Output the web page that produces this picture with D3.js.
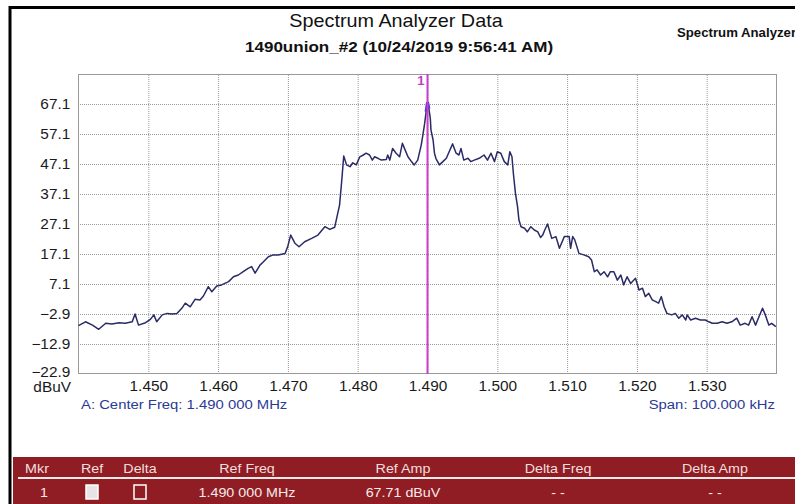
<!DOCTYPE html>
<html>
<head>
<meta charset="utf-8">
<script src="https://cdnjs.cloudflare.com/ajax/libs/d3/7.8.5/d3.min.js"></script>
<style>
    html, body { margin: 0; padding: 0; background: #fff; overflow: hidden; }
    svg { display: block; font-family: "Liberation Sans", Arial, sans-serif; }
</style>
</head>
<body>
<svg id="chart" width="795" height="504"></svg>
<script>
// trace: frequency (MHz) and amplitude (dBuV)
var freqMHz = [
    1.4400, 1.4410, 1.4420, 1.4429, 1.4439, 1.4448, 1.4458, 1.4467, 1.4477, 1.4481,
    1.4486, 1.4496, 1.4503, 1.4508, 1.4512, 1.4520, 1.4527, 1.4534, 1.4541, 1.4548,
    1.4553, 1.4560, 1.4567, 1.4574, 1.4579, 1.4586, 1.4591, 1.4598, 1.4605, 1.4615,
    1.4622, 1.4629, 1.4636, 1.4643, 1.4648, 1.4653, 1.4660, 1.4665, 1.4672, 1.4679,
    1.4686, 1.4696, 1.4700, 1.4704, 1.4710, 1.4716, 1.4724, 1.4734, 1.4743, 1.4753,
    1.4760, 1.4767, 1.4774, 1.4777, 1.4780, 1.4784, 1.4789, 1.4793, 1.4798, 1.4803,
    1.4808, 1.4812, 1.4817, 1.4821, 1.4824, 1.4829, 1.4834, 1.4841, 1.4843, 1.4846,
    1.4850, 1.4855, 1.4860, 1.4864, 1.4867, 1.4872, 1.4877, 1.4881, 1.4886, 1.4891,
    1.4893, 1.4896, 1.4898, 1.4900, 1.4902, 1.4904, 1.4905, 1.4908, 1.4910, 1.4912,
    1.4917, 1.4922, 1.4927, 1.4931, 1.4936, 1.4941, 1.4945, 1.4948, 1.4952, 1.4958,
    1.4962, 1.4967, 1.4974, 1.4981, 1.4986, 1.4991, 1.4996, 1.5000, 1.5005, 1.5010,
    1.5015, 1.5018, 1.5021, 1.5023, 1.5026, 1.5029, 1.5031, 1.5034, 1.5039, 1.5043,
    1.5048, 1.5053, 1.5058, 1.5062, 1.5065, 1.5068, 1.5072, 1.5078, 1.5084, 1.5089,
    1.5096, 1.5103, 1.5105, 1.5108, 1.5111, 1.5117, 1.5124, 1.5131, 1.5135, 1.5139,
    1.5143, 1.5148, 1.5153, 1.5158, 1.5162, 1.5167, 1.5172, 1.5177, 1.5181, 1.5186,
    1.5191, 1.5198, 1.5203, 1.5208, 1.5212, 1.5217, 1.5222, 1.5227, 1.5231, 1.5235,
    1.5239, 1.5243, 1.5250, 1.5255, 1.5260, 1.5265, 1.5270, 1.5272, 1.5277, 1.5284,
    1.5291, 1.5298, 1.5303, 1.5308, 1.5315, 1.5322, 1.5329, 1.5336, 1.5343, 1.5348,
    1.5355, 1.5360, 1.5365, 1.5370, 1.5374, 1.5380, 1.5384, 1.5389, 1.5393, 1.5399
];
var ampDbuv = [
    -6.8, -5.5, -6.6, -8.0, -6.0, -6.2, -5.8, -6.0, -5.5, -2.9,
    -6.6, -5.8, -4.7, -3.2, -5.5, -3.2, -2.7, -2.9, -2.7, -1.0,
    0.7, -0.5, 2.0, 1.8, 3.1, 6.2, 4.5, 6.4, 6.8, 7.9,
    9.5, 10.1, 11.2, 12.3, 12.9, 10.7, 13.4, 14.5, 16.2, 16.8,
    16.8, 17.3, 19.8, 23.4, 20.7, 19.5, 21.2, 22.3, 23.4, 26.2,
    25.3, 26.0, 33.4, 41.2, 49.8, 46.8, 46.2, 47.5, 46.8, 49.5,
    50.1, 50.7, 50.1, 48.4, 49.5, 49.0, 48.4, 48.6, 50.1, 48.4,
    52.3, 50.7, 49.5, 54.0, 52.3, 49.5, 47.9, 46.8, 48.4, 53.4,
    56.2, 60.7, 64.5, 67.71, 65.5, 62.3, 58.4, 55.1, 50.7, 49.0,
    46.8, 47.9, 49.0, 51.2, 53.8, 50.7, 50.1, 52.3, 48.4, 49.0,
    47.9, 48.4, 49.0, 50.1, 48.4, 50.7, 47.9, 51.2, 50.7, 47.9,
    46.8, 51.2, 49.5, 44.0, 37.3, 32.9, 28.4, 26.2, 25.7, 24.5,
    26.2, 25.1, 24.5, 22.6, 23.4, 25.1, 27.1, 22.3, 22.9, 19.0,
    22.9, 22.9, 19.0, 22.9, 21.8, 17.3, 16.8, 16.2, 15.1, 11.2,
    11.8, 10.1, 11.2, 9.5, 11.2, 11.2, 8.4, 10.1, 6.8, 9.5,
    7.3, 9.0, 5.1, 5.7, 2.9, 4.0, 1.8, 1.2, 0.7, 2.9,
    -0.5, -2.7, -3.2, -2.7, -4.3, -3.2, -4.9, -3.2, -4.9, -4.3,
    -4.9, -4.9, -5.5, -6.0, -6.0, -5.5, -6.0, -5.5, -4.3, -6.6,
    -6.0, -6.6, -3.8, -6.6, -4.3, -1.0, -3.2, -6.6, -6.0, -7.1
];
var ampTicks = [67.1, 57.1, 47.1, 37.1, 27.1, 17.1, 7.1, -2.9, -12.9, -22.9];
var freqTicks = [1.450, 1.460, 1.470, 1.480, 1.490, 1.500, 1.510, 1.520, 1.530];
var markerFreq = 1.490;
var markerAmp = 67.71;
var mkrHeaders = ['Mkr', 'Ref', 'Delta', 'Ref Freq', 'Ref Amp', 'Delta Freq', 'Delta Amp'];
var mkrRow = ['1', '', '', '1.490 000 MHz', '67.71 dBuV', '- -', '- -'];

(function () {
    'use strict';
    var svg = d3.select('#chart');
    var sx = 1.1; // the source picture is a bit wider than plain Arial
    var left = 78, right = 777, top = 74, bottom = 374;

    function label(g, x, y, s, size, opts) {
        opts = opts || {};
        return g.append('text')
            .attr('transform', 'translate(' + x + ',' + y + ') scale(' + sx + ',1)')
            .attr('dy', '0.35em')
            .attr('text-anchor', opts.anchor || 'middle')
            .attr('font-size', size)
            .attr('font-weight', opts.weight || 'normal')
            .attr('fill', opts.fill || '#1a1a1a')
            .text(s);
    }

    // outer frame, runs off the right/bottom of the picture
    svg.append('rect').attr('x', 10).attr('y', 7.5).attr('width', 820).attr('height', 540)
        .attr('fill', 'none').attr('stroke', '#000').attr('stroke-width', 3);

    label(svg, 396, 21, 'Spectrum Analyzer Data', 18, {fill: '#111'});
    label(svg, 399, 47, '1490union_#2 (10/24/2019 9:56:41 AM)', 15.5, {weight: 'bold', fill: '#111'});
    label(svg, 677, 33, 'Spectrum Analyzer', 12, {anchor: 'start', weight: 'bold', fill: '#111'});

    var x = d3.scaleLinear().domain([1.440, 1.540]).range([left + 0.5, right - 0.5]);
    var y = d3.scaleLinear().domain([-22.9, 77.1]).range([bottom, top]);

    var plot = svg.append('g');
    plot.append('rect').attr('x', left).attr('y', top).attr('width', right - left).attr('height', bottom - top)
        .attr('fill', '#fff');

    // grid
    var gridY = plot.append('g').attr('transform', 'translate(' + left + ',0)')
        .call(d3.axisLeft(y).tickValues(ampTicks.slice(0, -1)).tickSize(-(right - left)).tickFormat(''));
    var gridX = plot.append('g').attr('transform', 'translate(0,' + bottom + ')')
        .call(d3.axisBottom(x).tickValues(freqTicks).tickSize(-(bottom - top)).tickFormat(''));
    [gridY, gridX].forEach(function (g) {
        g.select('.domain').remove();
        g.selectAll('line').attr('stroke', '#9a9a9a').attr('stroke-dasharray', '1,1');
    });

    plot.append('rect').attr('x', left + 0.5).attr('y', top + 0.5).attr('width', right - left - 1).attr('height', bottom - top - 1)
        .attr('fill', 'none').attr('stroke', '#999');

    // tick labels
    var yAx = svg.append('g').attr('transform', 'translate(' + left + ',0)')
        .call(d3.axisLeft(y).tickValues(ampTicks).tickSize(0).tickPadding(7).tickFormat(d3.format('.1f')));
    var xAx = svg.append('g').attr('transform', 'translate(0,' + bottom + ')')
        .call(d3.axisBottom(x).tickValues(freqTicks).tickSize(0).tickPadding(7).tickFormat(d3.format('.3f')));
    [yAx, xAx].forEach(function (g) {
        g.select('.domain').remove();
        g.selectAll('text').attr('font-family', null).attr('font-size', 14).attr('fill', '#1a1a1a')
            .attr('transform', 'scale(' + sx + ',1)');
    });
    yAx.selectAll('.tick').filter(function (d) { return d === -22.9; }).select('text').attr('dy', '0.2em');
    label(svg, 71, 387, 'dBuV', 14, {anchor: 'end'});

    label(svg, 81, 404, 'A: Center Freq: 1.490 000 MHz', 13.5, {anchor: 'start', fill: '#2b3a94'});
    label(svg, 775, 404, 'Span: 100.000 kHz', 13.5, {anchor: 'end', fill: '#2b3a94'});

    // trace
    var pts = freqMHz.map(function (f, i) { return [f, ampDbuv[i]]; });
    var line = d3.line().x(function (d) { return x(d[0]); }).y(function (d) { return y(d[1]); });
    plot.append('path').datum(pts).attr('d', line)
        .attr('fill', 'none').attr('stroke', '#2a2b66').attr('stroke-width', 1.5).attr('stroke-linejoin', 'round');
    var peak = pts.filter(function (d) { return d[0] >= 1.4898 && d[0] <= 1.4902; });
    plot.append('path').datum(peak).attr('d', line)
        .attr('fill', 'none').attr('stroke', '#4a35d6').attr('stroke-width', 3);

    // marker
    plot.append('line').attr('x1', x(markerFreq)).attr('x2', x(markerFreq)).attr('y1', top).attr('y2', bottom)
        .attr('stroke', '#cc3fcc').attr('stroke-width', 2);
    label(svg, x(markerFreq) - 3, 81, '1', 12, {anchor: 'end', weight: 'bold', fill: '#c43cc4'});

    // marker table
    var tbl = svg.append('g');
    tbl.append('rect').attr('x', 13).attr('y', 457).attr('width', 790).attr('height', 50).attr('fill', '#8f1d23');
    tbl.append('line').attr('x1', 18).attr('x2', 795).attr('y1', 478).attr('y2', 478)
        .attr('stroke', '#f4eaea').attr('stroke-width', 2);
    var colX = [37, 92, 140, 247, 403, 558, 715];
    mkrHeaders.forEach(function (h, i) {
        label(tbl, colX[i], 468, h, 13, {fill: '#f3dede'});
    });
    mkrRow.forEach(function (v, i) {
        if (v) label(tbl, i === 0 ? 44 : colX[i], 492, v, 13, {fill: '#f6eaea'});
    });
    tbl.append('rect').attr('x', 86).attr('y', 485).attr('width', 12).attr('height', 14)
        .attr('fill', '#e9e4e4').attr('stroke', '#fff').attr('stroke-width', 1.5);
    tbl.append('rect').attr('x', 134).attr('y', 485).attr('width', 12).attr('height', 14)
        .attr('fill', 'none').attr('stroke', '#fff').attr('stroke-width', 1.5);
})();
</script>
</body>
</html>
